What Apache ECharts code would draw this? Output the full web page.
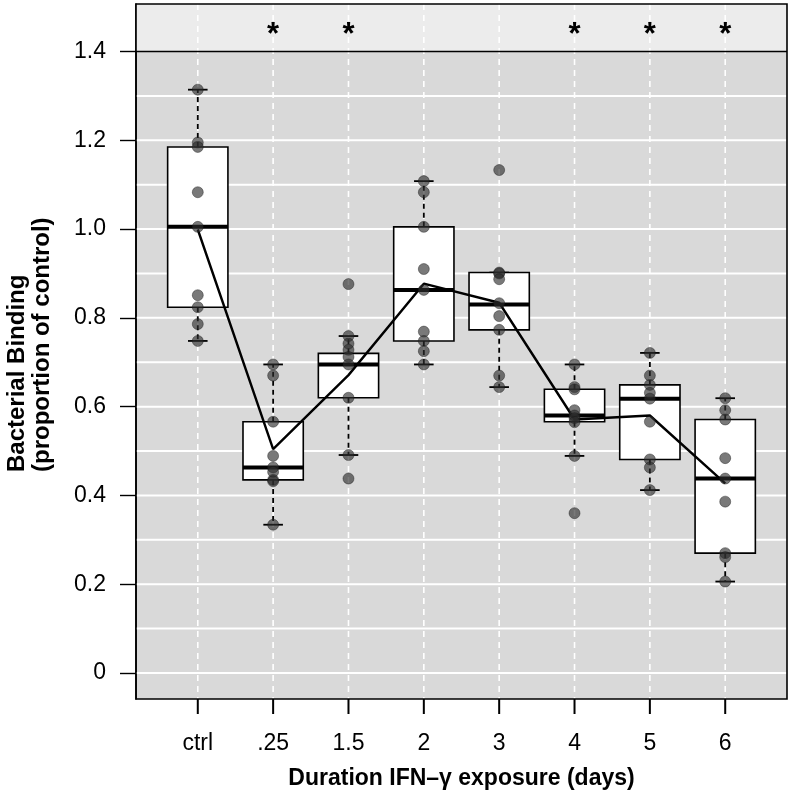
<!DOCTYPE html>
<html>
<head>
<meta charset="utf-8">
<script src="https://cdn.jsdelivr.net/npm/echarts@6/dist/echarts.min.js"></script>
<style>
html,body{margin:0;padding:0;background:#fff;}
#chart{width:792px;height:811px;}
</style>
</head>
<body>
<div id="chart"></div>
<script>
// ---- data ----
const categories = ['ctrl', '.25', '1.5', '2', '3', '4', '5', '6'];
const pointsCtrl = [1.314, 1.195, 1.185, 1.083, 1.005, 0.851, 0.824, 0.786, 0.748];
const points025  = [0.695, 0.670, 0.566, 0.489, 0.463, 0.453, 0.435, 0.432, 0.334];
const points15   = [0.876, 0.759, 0.742, 0.728, 0.712, 0.695, 0.620, 0.491, 0.438];
const points2    = [1.108, 1.083, 1.005, 0.910, 0.863, 0.769, 0.748, 0.725, 0.695];
const points3    = [1.133, 0.902, 0.900, 0.887, 0.833, 0.804, 0.773, 0.670, 0.644];
const points4    = [0.695, 0.644, 0.639, 0.592, 0.580, 0.574, 0.565, 0.489, 0.360];
const points5    = [0.721, 0.670, 0.649, 0.631, 0.618, 0.566, 0.481, 0.463, 0.412];
const points6    = [0.619, 0.592, 0.571, 0.484, 0.438, 0.386, 0.270, 0.261, 0.206];
const groupPoints = [pointsCtrl, points025, points15, points2, points3, points4, points5, points6];

const whiskerLow  = [0.748, 0.334, 0.491, 0.695, 0.644, 0.489, 0.412, 0.206];
const lowerHinge  = [0.824, 0.435, 0.620, 0.748, 0.773, 0.566, 0.481, 0.270];
const medians     = [1.005, 0.463, 0.695, 0.863, 0.830, 0.580, 0.618, 0.438];
const upperHinge  = [1.185, 0.566, 0.720, 1.005, 0.902, 0.639, 0.649, 0.571];
const whiskerHigh = [1.314, 0.695, 0.759, 1.108, 0.902, 0.695, 0.721, 0.619];
const means       = [0.999, 0.5045, 0.671, 0.877, 0.834, 0.571, 0.580, 0.427];
const sigMarks    = ['', '*', '*', '', '', '*', '*', '*'];

const yTickValues = [0, 0.2, 0.4, 0.6, 0.8, 1.0, 1.2, 1.4];
const yTickLabels = ['0', '0.2', '0.4', '0.6', '0.8', '1.0', '1.2', '1.4'];
const gridValues  = [0, 0.1, 0.2, 0.3, 0.4, 0.5, 0.6, 0.7, 0.8, 0.9, 1.0, 1.1, 1.2, 1.3];
const bandLevel = 1.4;

// ---- layout / style constants ----
const X_MIN = 0.18, X_MAX = 8.82;
const Y_MIN = -0.0586, Y_MAX = 1.507;
const STAR_Y = 1.445;
const X_TICK_LEN = 15;
const FONT = 'Liberation Sans, Arial, Helvetica, sans-serif';

const xPositions = categories.map((c, i) => i + 1);

const boxData = categories.map((c, i) => [i + 1, whiskerLow[i], lowerHinge[i], medians[i], upperHinge[i], whiskerHigh[i]]);
const scatterData = [];
groupPoints.forEach((arr, i) => arr.forEach(v => scatterData.push([i + 1, v])));
const meanData = means.map((m, i) => [i + 1, m]);
const starData = [];
sigMarks.forEach((s, i) => { if (s) starData.push([i + 1, STAR_Y, s]); });

const chart = echarts.init(document.getElementById('chart'), null, {renderer: 'canvas'});

const option = {
  animation: false,
  backgroundColor: '#ffffff',
  grid: {
    left: 136, right: 5, top: 4, bottom: 112,
    show: true, backgroundColor: '#d9d9d9', borderWidth: 0
  },
  xAxis: {
    type: 'value', min: X_MIN, max: X_MAX, position: 'bottom',
    splitLine: {show: false},
    axisLine: {show: false, onZero: false},
    axisTick: {show: false},
    axisLabel: {
      customValues: xPositions, margin: 45, verticalAlign: 'middle',
      fontFamily: FONT, fontSize: 23, color: '#000',
      formatter: v => categories[Math.round(v) - 1] || ''
    },
    name: 'Duration IFN\u2013\u03b3 exposure (days)',
    nameLocation: 'middle', nameGap: 80,
    nameTextStyle: {fontFamily: FONT, fontSize: 23, fontWeight: 'bold', color: '#000', verticalAlign: 'middle'}
  },
  yAxis: {
    type: 'value', min: Y_MIN, max: Y_MAX,
    splitLine: {show: false},
    axisLine: {show: true, onZero: false, lineStyle: {color: '#000', width: 1.6}},
    axisTick: {show: true, inside: false, customValues: yTickValues, length: 16, lineStyle: {color: '#000', width: 1.4}},
    axisLabel: {
      customValues: yTickValues, margin: 30,
      fontFamily: FONT, fontSize: 23, color: '#000',
      formatter: v => {
        const idx = yTickValues.findIndex(t => Math.abs(t - v) < 1e-6);
        return idx >= 0 ? yTickLabels[idx] : '';
      }
    }
  },
  series: [
    {
      // plot decorations: top band, grid lines, category guides
      type: 'custom', z: 1, silent: true, clip: false,
      data: [[1, 0]],
      renderItem: function (params, api) {
        const cs = params.coordSys;
        const children = [];
        const bandY = api.coord([X_MIN, bandLevel])[1];
        children.push({type: 'rect', shape: {x: cs.x, y: cs.y, width: cs.width, height: bandY - cs.y}, style: {fill: '#ececec'}});
        gridValues.forEach(g => {
          const y = api.coord([X_MIN, g])[1];
          children.push({type: 'line', shape: {x1: cs.x, y1: y, x2: cs.x + cs.width, y2: y}, style: {stroke: '#ffffff', lineWidth: 2}});
        });
        xPositions.forEach(xv => {
          const x = api.coord([xv, 0])[0];
          children.push({type: 'line', shape: {x1: x, y1: cs.y, x2: x, y2: cs.y + cs.height}, style: {stroke: '#ffffff', lineWidth: 1.6, lineDash: [6, 5]}});
        });
        children.push({type: 'line', shape: {x1: cs.x, y1: bandY, x2: cs.x + cs.width, y2: bandY}, style: {stroke: '#000', lineWidth: 1.6}});
        return {type: 'group', children: children};
      }
    },
    {
      // boxplots
      type: 'custom', z: 3, silent: true,
      data: boxData,
      encode: {x: 0, y: [1, 2, 3, 4, 5]},
      renderItem: function (params, api) {
        const x = api.value(0), lo = api.value(1), q1 = api.value(2), med = api.value(3), q3 = api.value(4), hi = api.value(5);
        const hw = 0.4, cw = 0.13;
        const tl = api.coord([x - hw, q3]), br = api.coord([x + hw, q1]);
        const c = api.coord([x, 0])[0];
        const yHi = api.coord([x, hi])[1], yLo = api.coord([x, lo])[1];
        const yMed = api.coord([x, med])[1];
        const capL = api.coord([x - cw, 0])[0], capR = api.coord([x + cw, 0])[0];
        const dash = {stroke: '#000', lineWidth: 1.8, lineDash: [5, 4]};
        return {type: 'group', children: [
          {type: 'line', shape: {x1: c, y1: tl[1], x2: c, y2: yHi}, style: dash},
          {type: 'line', shape: {x1: c, y1: br[1], x2: c, y2: yLo}, style: dash},
          {type: 'line', shape: {x1: capL, y1: yHi, x2: capR, y2: yHi}, style: {stroke: '#000', lineWidth: 1.8}},
          {type: 'line', shape: {x1: capL, y1: yLo, x2: capR, y2: yLo}, style: {stroke: '#000', lineWidth: 1.8}},
          {type: 'rect', shape: {x: tl[0], y: tl[1], width: br[0] - tl[0], height: br[1] - tl[1]}, style: {fill: '#ffffff', stroke: '#000', lineWidth: 1.6}},
          {type: 'line', shape: {x1: tl[0], y1: yMed, x2: br[0], y2: yMed}, style: {stroke: '#000', lineWidth: 4}}
        ]};
      }
    },
    {
      // line through group means
      type: 'line', z: 4, silent: true,
      data: meanData, symbol: 'none',
      lineStyle: {color: '#000', width: 2.4}
    },
    {
      // individual observations
      type: 'scatter', z: 5, silent: true,
      data: scatterData, symbol: 'circle', symbolSize: 11,
      itemStyle: {color: 'rgba(45,45,45,0.8)', borderColor: 'rgba(20,20,20,0.85)', borderWidth: 0.6}
    },
    {
      // significance asterisks
      type: 'custom', z: 6, silent: true,
      data: starData,
      encode: {x: 0, y: 1},
      renderItem: function (params, api) {
        const p = api.coord([api.value(0), api.value(1)]);
        return {type: 'text', x: p[0], y: p[1] + 4, style: {
          text: sigMarks[Math.round(api.value(0)) - 1],
          fontFamily: FONT, fontSize: 31, fontWeight: 'bold', fill: '#000',
          align: 'center', verticalAlign: 'middle'
        }};
      }
    },
    {
      // plot frame
      type: 'custom', z: 10, silent: true, clip: false,
      data: [[1, 0]],
      renderItem: function (params, api) {
        const cs = params.coordSys;
        return {type: 'rect', shape: {x: cs.x, y: cs.y, width: cs.width, height: cs.height}, style: {fill: 'none', stroke: '#000', lineWidth: 1.6}};
      }
    }
  ]
};
chart.setOption(option);

// category ticks and rotated y-axis title, positioned from the axis scales
const bottomPx = chart.convertToPixel({gridIndex: 0}, [X_MIN, Y_MIN])[1];
const graphicEls = xPositions.map(xv => {
  const px = chart.convertToPixel({xAxisIndex: 0}, xv);
  return {type: 'rect', z: 100, silent: true,
    shape: {x: px - 1, y: bottomPx, width: 2, height: X_TICK_LEN},
    style: {fill: '#000'}};
});
graphicEls.push({
  type: 'text', z: 100, x: 30, y: 472, rotation: Math.PI / 2, silent: true,
  style: {
    text: 'Bacterial Binding\n(proportion of control)',
    fontFamily: FONT, fontSize: 24, fontWeight: 'bold', fill: '#000',
    lineHeight: 25, align: 'left', verticalAlign: 'middle'
  }
});
chart.setOption({graphic: graphicEls});
</script>
</body>
</html>
